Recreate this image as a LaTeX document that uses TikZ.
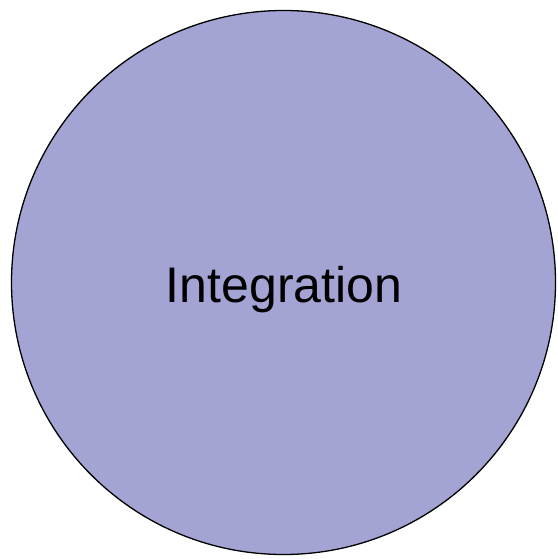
\documentclass[tikz,border=0pt]{standalone}
\usepackage{fontspec}
\setmainfont{Liberation Sans}
\definecolor{circfill}{HTML}{A3A3D4}
\begin{document}
\begin{tikzpicture}[x=1pt,y=-1pt,
  bubble/.style={circle,draw=black,line width=1.3pt,fill=circfill,minimum size=544pt,inner sep=0pt},
  label/.style={font=\fontsize{50}{60}\selectfont,text=black}]
\useasboundingbox (0,0) rectangle (557,559);
\node[bubble] (c) at (283.5,282.5) {};
\node[label] (t) at (284,290) {Integration};
\end{tikzpicture}
\end{document}
